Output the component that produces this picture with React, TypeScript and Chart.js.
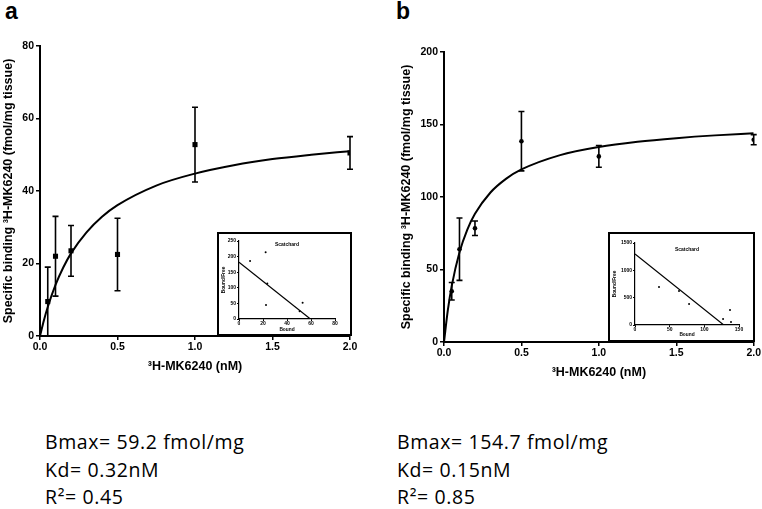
import React, { useEffect, useRef } from "react";
import { Chart, registerables } from "chart.js";

Chart.register(...registerables);

// ---------- data ----------
const concentrations = [0.05, 0.1, 0.2, 0.5, 1.0, 2.0];
const bindingA = [9.5, 22, 23.5, 22.5, 52.8, 50.5];
const errorA = [9.5, 11, 7, 10, 10.3, 4.5];
const bindingB = [35, 64, 78.5, 138.5, 128, 139.5];
const errorB = [6, 21.5, 5, 20.5, 7.5, 3.5];

// fitted saturation curves
const fitX = [0, 0.025, 0.05, 0.1, 0.15, 0.2, 0.3, 0.4, 0.5, 0.75, 1.0, 1.25, 1.5, 1.75, 2.0];
const fitA = [0, 4.3, 8.0, 14.1, 18.9, 22.8, 28.6, 32.9, 36.1, 41.5, 44.8, 47.1, 48.8, 50.0, 51.0];
const fitB = [0, 22.1, 38.7, 61.9, 77.4, 88.4, 103.1, 112.5, 119.0, 128.9, 134.5, 138.1, 140.6, 142.5, 143.9];

// Scatchard insets
const scatBoundA = [9.2, 22.2, 23.6, 22.5, 53, 50.5];
const scatRatioA = [186, 214, 114, 45, 52, 25];
const scatLineXA = [0, 59.5];
const scatLineYA = [182, 0];

const scatBoundB = [34.6, 63.5, 78, 137, 127, 138.5];
const scatRatioB = [695, 622, 384, 274, 110, 55];
const scatLineXB = [0, 128];
const scatLineYB = [1300, 0];

const xTicksMain = [0, 0.5, 1.0, 1.5, 2.0];

const statsA = ["Bmax= 59.2 fmol/mg", "Kd= 0.32nM", "R²= 0.45"];
const statsB = ["Bmax= 154.7 fmol/mg", "Kd= 0.15nM", "R²= 0.85"];

const FONT = "'Liberation Sans', Arial, Helvetica, sans-serif";

const toPoints = (xs: number[], ys: number[]) => xs.map((x, i) => ({ x, y: ys[i] }));

const errorBarPlugin = {
  id: "errorBars",
  afterDatasetsDraw(chart: any, _args: any, opts: any) {
    if (!opts || !opts.errors) return;
    const ds = chart.data.datasets[opts.datasetIndex || 0];
    const xs = chart.scales.x;
    const ys = chart.scales.y;
    const ctx = chart.ctx;
    const cap = opts.cap || 3;
    ctx.save();
    ctx.strokeStyle = "#000";
    ctx.lineWidth = opts.lineWidth || 1.5;
    ds.data.forEach((p: any, i: number) => {
      const e = opts.errors[i];
      const px = xs.getPixelForValue(p.x);
      const top = ys.getPixelForValue(p.y + e);
      const bot = ys.getPixelForValue(Math.max(0, p.y - e));
      ctx.beginPath();
      ctx.moveTo(px, top);
      ctx.lineTo(px, bot);
      ctx.moveTo(px - cap, top);
      ctx.lineTo(px + cap, top);
      ctx.moveTo(px - cap, bot);
      ctx.lineTo(px + cap, bot);
      ctx.stroke();
    });
    ctx.restore();
  },
};

const insetTitlePlugin = {
  id: "insetTitle",
  afterDraw(chart: any, _args: any, opts: any) {
    if (!opts || !opts.text) return;
    const { ctx, chartArea } = chart;
    ctx.save();
    ctx.fillStyle = "#000";
    ctx.font = `bold ${opts.size}px ${FONT}`;
    ctx.textAlign = "center";
    ctx.textBaseline = "middle";
    ctx.fillText(opts.text, (chartArea.left + chartArea.right) / 2, chartArea.top + opts.dy);
    ctx.restore();
  },
};

function mainConfig(p: any) {
  const tickFont = { family: FONT, size: 10.5, weight: "bold" as const };
  const titleFont = { family: FONT, size: 12.5, weight: "bold" as const };
  return {
    type: "scatter",
    data: {
      datasets: [
        {
          data: p.points,
          pointStyle: p.pointStyle,
          pointRadius: p.pointRadius,
          backgroundColor: "#000",
          borderColor: "#000",
          borderWidth: 0,
          showLine: false,
        },
        {
          data: p.fit,
          showLine: true,
          borderColor: "#000",
          borderWidth: 2,
          pointRadius: 0,
          cubicInterpolationMode: "monotone",
          fill: false,
        },
      ],
    },
    options: {
      responsive: false,
      animation: false,
      devicePixelRatio: 1,
      events: [],
      layout: { padding: p.padding },
      plugins: {
        legend: { display: false },
        tooltip: { enabled: false },
        errorBars: { datasetIndex: 0, errors: p.errors, cap: 3, lineWidth: 1.6 },
      },
      scales: {
        x: {
          type: "linear",
          min: 0,
          max: 2,
          afterBuildTicks: (s: any) => {
            s.ticks = xTicksMain.map((v) => ({ value: v }));
          },
          ticks: {
            callback: (v: any) => Number(v).toFixed(1),
            font: tickFont,
            color: "#000",
            padding: 1,
            maxRotation: 0,
            autoSkip: false,
          },
          grid: { drawOnChartArea: false, drawTicks: true, tickLength: 4, color: "#000", lineWidth: 1.5 },
          border: { display: true, color: "#000", width: 2 },
          title: { display: true, text: "³H-MK6240 (nM)", font: titleFont, color: "#000", padding: 0 },
          afterFit: (s: any) => {
            s.height = p.xHeight;
          },
        },
        y: {
          type: "linear",
          min: 0,
          max: p.yMax,
          ticks: { stepSize: p.yStep, font: tickFont, color: "#000", padding: 2 },
          grid: { drawOnChartArea: false, drawTicks: true, tickLength: 4, color: "#000", lineWidth: 1.5 },
          border: { display: true, color: "#000", width: 2 },
          title: {
            display: true,
            text: "Specific binding ³H-MK6240 (fmol/mg tissue)",
            font: titleFont,
            color: "#000",
            padding: 0,
          },
          afterFit: (s: any) => {
            s.width = p.yWidth;
          },
        },
      },
    },
    plugins: [errorBarPlugin],
  };
}

function insetConfig(p: any) {
  const tickFont = { family: FONT, size: 5, weight: "bold" as const };
  const titleFont = { family: FONT, size: 4.8, weight: "bold" as const };
  const plain = (v: any) => String(v);
  return {
    type: "scatter",
    data: {
      datasets: [
        {
          data: p.points,
          pointRadius: 1,
          backgroundColor: "#000",
          borderColor: "#000",
          borderWidth: 0,
          showLine: false,
        },
        {
          data: p.line,
          showLine: true,
          borderColor: "#000",
          borderWidth: 1.2,
          pointRadius: 0,
          fill: false,
        },
      ],
    },
    options: {
      responsive: false,
      animation: false,
      devicePixelRatio: 1,
      events: [],
      layout: { padding: p.padding },
      plugins: {
        legend: { display: false },
        tooltip: { enabled: false },
        insetTitle: { text: "Scatchard", size: 5, dy: p.titleDy },
      },
      scales: {
        x: {
          type: "linear",
          min: 0,
          max: p.xMax,
          ticks: {
            stepSize: p.xStep,
            callback: plain,
            font: tickFont,
            color: "#000",
            padding: 0,
            maxRotation: 0,
            autoSkip: false,
          },
          grid: { drawOnChartArea: false, drawTicks: true, tickLength: 2, color: "#000", lineWidth: 1 },
          border: { display: true, color: "#000", width: 1.2 },
          title: { display: true, text: "Bound", font: titleFont, color: "#000", padding: 0 },
          afterFit: (s: any) => {
            s.height = p.xHeight;
          },
        },
        y: {
          type: "linear",
          min: 0,
          max: p.yMax,
          ticks: { stepSize: p.yStep, callback: plain, font: tickFont, color: "#000", padding: 1 },
          grid: { drawOnChartArea: false, drawTicks: true, tickLength: 2, color: "#000", lineWidth: 1 },
          border: { display: true, color: "#000", width: 1.2 },
          title: { display: true, text: "Bound/Free", font: titleFont, color: "#000", padding: 0 },
          afterFit: (s: any) => {
            s.width = p.yWidth;
          },
        },
      },
    },
    plugins: [insetTitlePlugin],
  };
}

function ChartCanvas(props: { config: any; left: number; top: number; width: number; height: number }) {
  const ref = useRef<HTMLCanvasElement | null>(null);
  useEffect(() => {
    if (!ref.current) return;
    const chart = new Chart(ref.current, props.config);
    return () => chart.destroy();
  }, []);
  return (
    <canvas
      ref={ref}
      width={props.width}
      height={props.height}
      style={{ position: "absolute", left: props.left, top: props.top, width: props.width, height: props.height }}
    />
  );
}

export default function App() {
  const cfgA = mainConfig({
    points: toPoints(concentrations, bindingA),
    errors: errorA,
    fit: toPoints(fitX, fitA),
    yMax: 80,
    yStep: 20,
    pointStyle: "rect",
    pointRadius: 3.6,
    padding: { left: 1.5, top: 46, right: 30, bottom: 0 },
    yWidth: 38.5,
    xHeight: 38,
  });
  const cfgB = mainConfig({
    points: toPoints(concentrations, bindingB),
    errors: errorB,
    fit: toPoints(fitX, fitB),
    yMax: 200,
    yStep: 50,
    pointStyle: "circle",
    pointRadius: 2.3,
    padding: { left: 19.5, top: 52, right: 7, bottom: 0 },
    yWidth: 44.5,
    xHeight: 38,
  });
  const insetA = insetConfig({
    points: toPoints(scatBoundA, scatRatioA),
    line: toPoints(scatLineXA, scatLineYA),
    xMax: 80,
    xStep: 20,
    yMax: 250,
    yStep: 50,
    padding: { left: 1.5, top: 7, right: 15, bottom: 1.7 },
    yWidth: 18.5,
    xHeight: 13.3,
    titleDy: 4,
  });
  const insetB = insetConfig({
    points: toPoints(scatBoundB, scatRatioB),
    line: toPoints(scatLineXB, scatLineYB),
    xMax: 150,
    xStep: 50,
    yMax: 1500,
    yStep: 500,
    padding: { left: 2, top: 9, right: 14, bottom: 2 },
    yWidth: 23,
    xHeight: 13,
    titleDy: 7,
  });

  const panelLabel: React.CSSProperties = {
    position: "absolute",
    fontFamily: FONT,
    fontWeight: "bold",
    fontSize: 23,
    lineHeight: "23px",
    color: "#000",
    margin: 0,
  };
  const stats: React.CSSProperties = {
    position: "absolute",
    fontFamily: "'Open Sans', Lato, sans-serif",
    fontSize: 19.5,
    letterSpacing: "0.6px",
    lineHeight: "27.5px",
    color: "#000",
    whiteSpace: "nowrap",
  };
  const insetBox: React.CSSProperties = {
    position: "absolute",
    border: "2px solid #000",
    background: "#fff",
    boxSizing: "border-box",
  };

  return (
    <div style={{ position: "absolute", left: 0, top: 0, width: 762, height: 509, background: "#fff", overflow: "hidden" }}>
      <div style={{ ...panelLabel, left: 5, top: 0 }}>a</div>
      <div style={{ ...panelLabel, left: 396, top: 0 }}>b</div>

      <ChartCanvas config={cfgA} left={0} top={0} width={380} height={374} />
      <ChartCanvas config={cfgB} left={380} top={0} width={382} height={380} />

      <div style={{ ...insetBox, left: 217, top: 232, width: 135, height: 104 }} />
      <ChartCanvas config={insetA} left={219} top={234} width={131} height={100} />
      <div style={{ ...insetBox, left: 608, top: 232, width: 147, height: 110 }} />
      <ChartCanvas config={insetB} left={610} top={234} width={143} height={106} />

      <div style={{ ...stats, left: 45, top: 428 }}>
        {statsA.map((s) => (
          <div key={s}>{s}</div>
        ))}
      </div>
      <div style={{ ...stats, left: 397, top: 428 }}>
        {statsB.map((s) => (
          <div key={s}>{s}</div>
        ))}
      </div>
    </div>
  );
}
